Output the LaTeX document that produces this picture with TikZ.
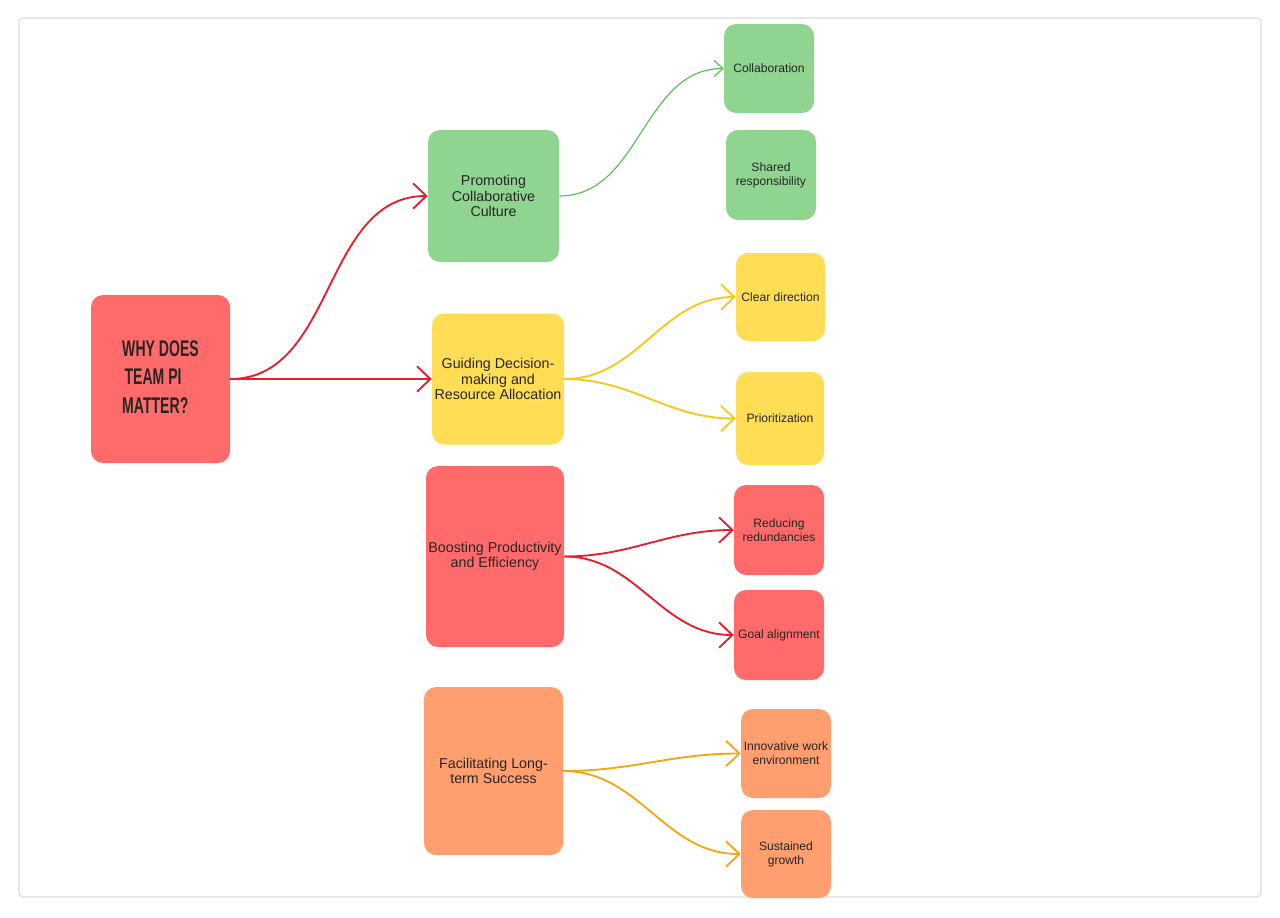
\documentclass[tikz,border=0pt]{standalone}
\usepackage{fontspec}
\setmainfont{Liberation Sans}
\usetikzlibrary{arrows.meta}

\definecolor{boxgreen}{HTML}{8FD48F}
\definecolor{boxyellow}{HTML}{FFDD55}
\definecolor{boxred}{HTML}{FF6B6B}
\definecolor{boxorange}{HTML}{FF9E6E}
\definecolor{linered}{HTML}{E5202E}
\definecolor{linegreen}{HTML}{5CBF5C}
\definecolor{lineyellow}{HTML}{F5C81A}
\definecolor{lineorange}{HTML}{F4A712}
\definecolor{framegray}{HTML}{DADADA}

\tikzset{
  box/.style={rounded corners=9pt, inner sep=0pt, align=center, text=black!85},
  sz/.style 2 args={minimum width=#1*0.75pt, minimum height=#2*0.75pt},
  mid/.style={box, font=\fontsize{10.7}{11.7}\selectfont},
  leaf/.style={box, font=\fontsize{9.1}{10.5}\selectfont},
  link/.style={line width=1.4pt, -{Straight Barb[length=10pt,width=19pt,line width=1.4pt]}},
  thinlink/.style={line width=0.9pt, -{Straight Barb[length=6.5pt,width=12pt,line width=0.9pt]}}
}

\begin{document}
\begin{tikzpicture}[x=0.75pt,y=-0.75pt]
\useasboundingbox (0,0) rectangle (1280,917);
\draw[framegray, line width=0.8pt, rounded corners=3pt] (19,18) rectangle (1261,897);

% root
\node[box, fill=boxred, sz={139}{168}, font=\bfseries\fontsize{17}{21}\selectfont, text=black!85] (why) at (160.5,379)
  {\begin{tabular}{@{}l@{}}\scalebox{0.62}[1]{WHY DOES}\\[0.3pt]\scalebox{0.62}[1]{\,TEAM PI}\\[0.3pt]\scalebox{0.62}[1]{MATTER?}\end{tabular}};

% middle column
\node[mid, fill=boxgreen, sz={131}{132}] (culture) at (493.5,196) {Promoting\\Collaborative\\Culture};
\node[mid, fill=boxyellow, sz={132}{131}] (guiding) at (498,379) {Guiding Decision-\\making and\\Resource Allocation};
\node[mid, fill=boxred, sz={138}{181}] (boosting) at (495,556.5) {Boosting Productivity\\and Efficiency};
\node[mid, fill=boxorange, sz={139}{168}] (longterm) at (493.5,771) {Facilitating Long-\\term Success};

% leaves
\node[leaf, fill=boxgreen, sz={90}{89}] (collab) at (769,68.5) {Collaboration};
\node[leaf, fill=boxgreen, sz={90}{90}] (shared) at (771,175) {Shared\\responsibility};
\node[leaf, fill=boxyellow, sz={89}{88}] (clear) at (780.5,297) {Clear direction};
\node[leaf, fill=boxyellow, sz={88}{93}] (prio) at (780,418.5) {Prioritization};
\node[leaf, fill=boxred, sz={90}{90}] (reduce) at (779,530) {Reducing\\redundancies};
\node[leaf, fill=boxred, sz={90}{90}] (goal) at (779,635) {Goal alignment};
\node[leaf, fill=boxorange, sz={90}{89}] (innov) at (786,753.5) {Innovative work\\environment};
\node[leaf, fill=boxorange, sz={90}{88}] (growth) at (786,854) {Sustained\\growth};

% connectors
\draw[link, linered] (why.east) to[out=0,in=180] (culture.west);
\draw[link, linered] (why.east) -- (guiding.west);
\draw[thinlink, linegreen] (culture.east) to[out=0,in=180] (collab.west);
\draw[link, lineyellow] (guiding.east) to[out=0,in=180] (clear.west);
\draw[link, lineyellow] (guiding.east) to[out=0,in=180] (prio.west);
\draw[link, linered] (boosting.east) to[out=0,in=180] (reduce.west);
\draw[link, linered] (boosting.east) to[out=0,in=180] (goal.west);
\draw[link, lineorange] (longterm.east) to[out=0,in=180] (innov.west);
\draw[link, lineorange] (longterm.east) to[out=0,in=180] (growth.west);
\end{tikzpicture}
\end{document}
